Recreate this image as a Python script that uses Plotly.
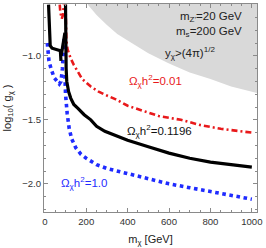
import plotly.graph_objects as go

# ---- data ----
black_x = [18, 20, 22, 26, 35, 55, 75, 78, None, 79, 88, 97,
           None, 100, 101, 103, 106, 115, 125, 140, 160, 190, 222, 250, 290, 350, 400, 500, 600, 700, 800, 900, 1000]
black_y = [-0.6, -0.75, -0.87, -0.92, -0.94, -0.95, -0.96, -1.04, None, -1.0, -0.92, -0.82,
           None, -0.6, -0.9, -1.1, -1.2, -1.28, -1.33, -1.38, -1.41, -1.46, -1.5, -1.55, -1.59, -1.63, -1.66, -1.71, -1.76, -1.8, -1.83, -1.85, -1.87]

red_x = [72, 75, 82, 88, 92, None, 100, 101, 104, 110, 125, 140, 160, 180, 222, 260, 300, 343, 400, 488, 550, 657, 750, 850, 1000]
red_y = [-0.6, -0.66, -0.71, -0.68, -0.6, None, -0.6, -0.75, -0.88, -0.95, -1.02, -1.07, -1.13, -1.18, -1.24, -1.28, -1.31, -1.34, -1.39, -1.44, -1.47, -1.5, -1.54, -1.57, -1.6]

blue_x = [12, 15, 20, 30, 45, 60, 70, 78, 85, 90, 93, None, 97, 100, 108, 118, 130, 150, 175, 200, 250, 300, 400, 500, 600, 700, 800, 900, 1000]
blue_y = [-0.9, -0.97, -1.04, -1.1, -1.17, -1.2, -1.22, -1.2, -1.1, -0.95, -0.87, None, -1.15, -1.3, -1.45, -1.57, -1.65, -1.72, -1.77, -1.8, -1.85, -1.88, -1.92, -1.96, -2.0, -2.03, -2.06, -2.09, -2.12]

gray_x = [208, 250, 300, 350, 400, 500, 600, 700, 800, 900, 1025]
gray_y = [-0.6, -0.68, -0.76, -0.83, -0.88, -0.98, -1.06, -1.13, -1.18, -1.24, -1.29]

x_ticks = [0, 200, 400, 600, 800, 1000]
y_ticks = [-2.0, -1.5, -1.0]
X_RANGE = [-4, 1025]
Y_RANGE = [-2.22, -0.595]

FONT = "Liberation Sans, Arial, sans-serif"
RED, BLUE = "#e8191b", "#1f2bff"

fig = go.Figure()

# excluded (gray) region above the perturbativity bound
fig.add_trace(go.Scatter(
    x=gray_x + [X_RANGE[1], gray_x[0]],
    y=gray_y + [Y_RANGE[1], Y_RANGE[1]],
    fill="toself", fillcolor="#d9d9d9", mode="none", hoverinfo="skip"))

fig.add_trace(go.Scatter(x=red_x, y=red_y, mode="lines",
                         line=dict(color=RED, width=2.6, dash="6px,3px,2px,3px")))
fig.add_trace(go.Scatter(x=blue_x, y=blue_y, mode="lines",
                         line=dict(color=BLUE, width=3.6, dash="dot")))
fig.add_trace(go.Scatter(x=black_x, y=black_y, mode="lines",
                         line=dict(color="black", width=3.2)))

L, R, T, B = 44, 9, 4, 36
W, H = 266, 248
pw, ph = W - L - R, H - T - B

labels = [
    (243, 17, "m<sub>Z'</sub>=20 GeV", "right", "#222"),
    (243, 32, "m<sub>s</sub>=200 GeV", "right", "#222"),
    (164, 53, "y<sub>χ</sub>>(4π)<sup>1/2</sup>", "left", "#222"),
    (128, 81, "Ω<sub>χ</sub>h<sup>2</sup>=0.01", "left", RED),
    (126, 131, "Ω<sub>χ</sub>h<sup>2</sup>=0.1196", "left", "#111"),
    (60, 183, "Ω<sub>χ</sub>h<sup>2</sup>=1.0", "left", BLUE),
]
annotations = []
for px, py, txt, anc, col in labels:
    annotations.append(dict(x=(px - L) / pw, y=1 - (py - T) / ph, xref="paper", yref="paper",
                            text=txt, showarrow=False, xanchor=anc, yanchor="middle",
                            borderpad=0, font=dict(family=FONT, size=11.5, color=col)))

axis_common = dict(showgrid=False, zeroline=False, showline=True, linecolor="#8a8a8a", linewidth=1,
                   mirror="allticks", ticks="inside", ticklen=4, tickcolor="#8a8a8a",
                   tickfont=dict(family=FONT, size=9.6, color="#333"))

fig.update_layout(
    width=W, height=H, margin=dict(l=L, r=R, t=T, b=B),
    paper_bgcolor="white", plot_bgcolor="white", showlegend=False,
    annotations=annotations,
    xaxis=dict(axis_common, range=X_RANGE, tickvals=x_ticks,
               minor=dict(dtick=50, tick0=0, ticks="inside", ticklen=2, tickcolor="#8a8a8a"),
               title=dict(text="m<sub>χ</sub> [GeV]", standoff=9,
                          font=dict(family=FONT, size=11, color="#222"))),
    yaxis=dict(axis_common, range=Y_RANGE, tickvals=y_ticks, tickformat=".1f",
               minor=dict(dtick=0.1, tick0=0, ticks="inside", ticklen=2, tickcolor="#8a8a8a"),
               title=dict(text="log<sub>10</sub>( g<sub>χ</sub> )", standoff=8,
                          font=dict(family=FONT, size=11, color="#222"))),
)

fig.write_html("out.html", config={"displayModeBar": False},
               post_script="document.body.style.margin='0';document.body.style.overflow='hidden';")
